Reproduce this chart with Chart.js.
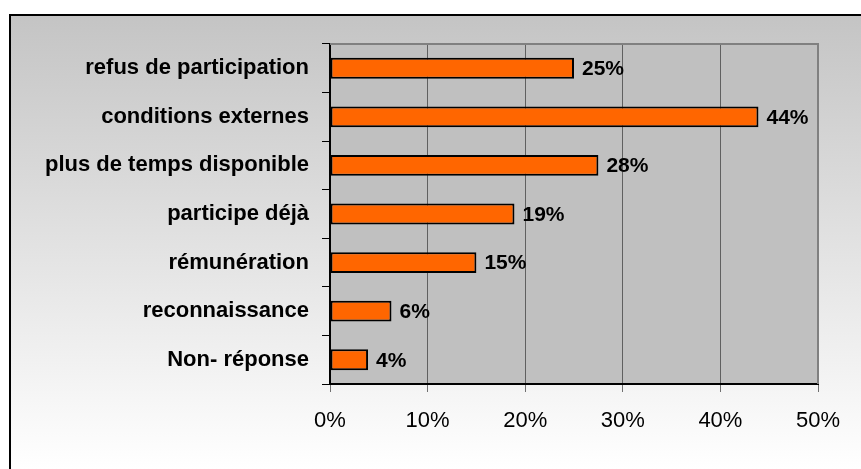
<!DOCTYPE html>
<html>
<head>
<meta charset="utf-8">
<script src="https://cdn.jsdelivr.net/npm/chart.js@4/dist/chart.umd.min.js"></script>
<style>
  html, body { margin: 0; padding: 0; background: #fff; }
  #wrap { width: 861px; height: 469px; position: relative; }
</style>
</head>
<body>
<div id="wrap"><canvas id="chart" width="861" height="469"></canvas></div>
<script>
// Données
const categories = [
    'refus de participation',
    'conditions externes',
    'plus de temps disponible',
    'participe déjà',
    'rémunération',
    'reconnaissance',
    'Non- réponse'
];
const values = [25, 43.9, 27.5, 18.9, 15, 6.3, 3.9];
const valueLabels = ['25%', '44%', '28%', '19%', '15%', '6%', '4%'];
const xTicks = [0, 10, 20, 30, 40, 50];

const FONT = "'Liberation Sans', Arial, sans-serif";

// Fond du cadre + zone de tracé
const backgroundPlugin = {
    id: 'frame',
    beforeDraw(chart) {
        const { ctx, chartArea: a, width, height } = chart;
        ctx.save();
        const g = ctx.createLinearGradient(0, 14, 0, height);
        g.addColorStop(0, '#c4c4c4');
        g.addColorStop(1, '#ffffff');
        ctx.fillStyle = g;
        ctx.fillRect(10, 14, width - 10, height - 14);
        ctx.strokeStyle = '#000';
        ctx.lineWidth = 2;
        ctx.beginPath();
        ctx.moveTo(10, height);
        ctx.lineTo(10, 15);
        ctx.lineTo(width, 15);
        ctx.stroke();
        ctx.fillStyle = '#c0c0c0';
        ctx.fillRect(a.left, a.top, a.right - a.left, a.bottom - a.top);
        ctx.restore();
    },
    afterDraw(chart) {
        const { ctx, chartArea: a } = chart;
        ctx.save();
        ctx.strokeStyle = '#808080';
        ctx.lineWidth = 2;
        ctx.beginPath();
        ctx.moveTo(a.left, a.top);
        ctx.lineTo(a.right, a.top);
        ctx.lineTo(a.right, a.bottom);
        ctx.stroke();
        ctx.restore();
    }
};

// Étiquettes de valeurs au bout des barres
const valueLabelPlugin = {
    id: 'valueLabels',
    afterDatasetsDraw(chart) {
        const { ctx } = chart;
        const meta = chart.getDatasetMeta(0);
        ctx.save();
        ctx.font = 'bold 21px ' + FONT;
        ctx.fillStyle = '#000';
        ctx.textAlign = 'left';
        ctx.textBaseline = 'middle';
        meta.data.forEach((bar, i) => {
            ctx.fillText(valueLabels[i], bar.x + 8, bar.y + 1);
        });
        ctx.restore();
    }
};

new Chart(document.getElementById('chart'), {
    type: 'bar',
    data: {
        labels: categories,
        datasets: [{
            data: values,
            backgroundColor: '#ff6600',
            borderColor: '#000',
            borderWidth: 2,
            borderSkipped: false,
            barPercentage: 0.43,
            categoryPercentage: 1
        }]
    },
    options: {
        indexAxis: 'y',
        responsive: false,
        animation: false,
        devicePixelRatio: 1,
        layout: { padding: { left: 10, right: 43, top: 44, bottom: 0 } },
        plugins: {
            legend: { display: false },
            tooltip: { enabled: false }
        },
        scales: {
            x: {
                min: 0,
                max: 50,
                afterBuildTicks(scale) {
                    scale.ticks = xTicks.map(v => ({ value: v }));
                },
                afterFit(scale) { scale.height = 85; },
                grid: {
                    color: '#606060',
                    lineWidth: 1,
                    tickLength: 8,
                    tickColor: '#707070'
                },
                border: { color: '#000', width: 2 },
                ticks: {
                    padding: 16,
                    color: '#000',
                    font: { family: FONT, size: 22 },
                    callback: (v) => v + '%'
                }
            },
            y: {
                afterFit(scale) { scale.width = 320; },
                grid: {
                    offset: true,
                    drawOnChartArea: false,
                    tickLength: 8,
                    tickColor: '#000'
                },
                border: { color: '#000', width: 2 },
                ticks: {
                    padding: 13,
                    color: '#000',
                    font: { family: FONT, size: 22, weight: 'bold' }
                }
            }
        }
    },
    plugins: [backgroundPlugin, valueLabelPlugin]
});
</script>
</body>
</html>
